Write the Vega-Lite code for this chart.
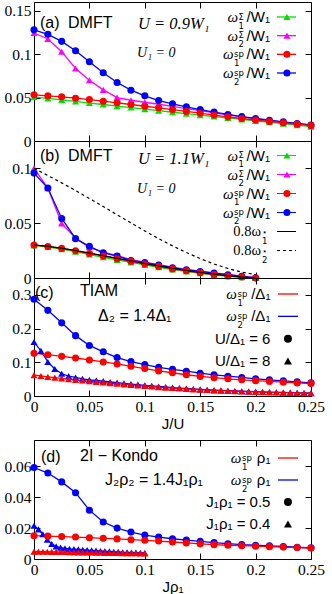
{
"$schema":"https://vega.github.io/schema/vega-lite/v6.json",
"padding":{"left":3,"top":1,"right":2,"bottom":2},
"config":{
"view":{"stroke":"#000","strokeWidth":1},
"axis":{"domain":false,"grid":false,"tickColor":"#000","tickSize":-6,"tickWidth":1,"labelFont":"Liberation Serif","labelFontSize":15.5,"labelColor":"#000","labelPadding":9,"labelFlush":false,"labelOverlap":false,"titleFont":"Liberation Sans","titleFontSize":15,"titleFontWeight":"normal","titleColor":"#000","titlePadding":2},
"line":{"strokeWidth":1.3},
"point":{"filled":true,"opacity":1,"size":50},
"rule":{"strokeWidth":1.3},
"text":{"baseline":"middle","color":"#000"}
},
"spacing":7,
"bounds":"full",
"vconcat":[
{"spacing":0,"bounds":"flush","vconcat":[
{
"width":277,"height":139,
"data":{"values":[
{"s":"w1S","x":0,"y":0.0505},{"s":"w1S","x":0.0125,"y":0.049},{"s":"w1S","x":0.025,"y":0.0473},{"s":"w1S","x":0.0375,"y":0.0455},{"s":"w1S","x":0.05,"y":0.0437},{"s":"w1S","x":0.0625,"y":0.042},{"s":"w1S","x":0.075,"y":0.0402},{"s":"w1S","x":0.0875,"y":0.0385},{"s":"w1S","x":0.1,"y":0.0367},{"s":"w1S","x":0.1125,"y":0.0349},{"s":"w1S","x":0.125,"y":0.0331},{"s":"w1S","x":0.1375,"y":0.0315},{"s":"w1S","x":0.15,"y":0.0298},{"s":"w1S","x":0.1625,"y":0.0282},{"s":"w1S","x":0.175,"y":0.0265},{"s":"w1S","x":0.1875,"y":0.0249},{"s":"w1S","x":0.2,"y":0.0232},{"s":"w1S","x":0.2125,"y":0.0216},{"s":"w1S","x":0.225,"y":0.0199},{"s":"w1S","x":0.2375,"y":0.0183},{"s":"w1S","x":0.25,"y":0.0166},
{"s":"w2S","x":0,"y":0.1243},{"s":"w2S","x":0.0125,"y":0.1174},{"s":"w2S","x":0.025,"y":0.1028},{"s":"w2S","x":0.0375,"y":0.0835},{"s":"w2S","x":0.05,"y":0.07},{"s":"w2S","x":0.0625,"y":0.0589},{"s":"w2S","x":0.075,"y":0.05},{"s":"w2S","x":0.0875,"y":0.0469},{"s":"w2S","x":0.1,"y":0.0446},{"s":"w2S","x":0.1125,"y":0.0423},{"s":"w2S","x":0.125,"y":0.0398},{"s":"w2S","x":0.1375,"y":0.0373},{"s":"w2S","x":0.15,"y":0.0349},{"s":"w2S","x":0.1625,"y":0.0325},{"s":"w2S","x":0.175,"y":0.0301},{"s":"w2S","x":0.1875,"y":0.0278},{"s":"w2S","x":0.2,"y":0.0257},{"s":"w2S","x":0.2125,"y":0.0237},{"s":"w2S","x":0.225,"y":0.0217},{"s":"w2S","x":0.2375,"y":0.0199},{"s":"w2S","x":0.25,"y":0.0182},
{"s":"w2","x":0,"y":0.128},{"s":"w2","x":0.0125,"y":0.1228},{"s":"w2","x":0.025,"y":0.1147},{"s":"w2","x":0.0375,"y":0.1039},{"s":"w2","x":0.05,"y":0.0912},{"s":"w2","x":0.0625,"y":0.0785},{"s":"w2","x":0.075,"y":0.0674},{"s":"w2","x":0.0875,"y":0.0585},{"s":"w2","x":0.1,"y":0.052},{"s":"w2","x":0.1125,"y":0.0466},{"s":"w2","x":0.125,"y":0.0428},{"s":"w2","x":0.1375,"y":0.0394},{"s":"w2","x":0.15,"y":0.0362},{"s":"w2","x":0.1625,"y":0.0333},{"s":"w2","x":0.175,"y":0.0306},{"s":"w2","x":0.1875,"y":0.0281},{"s":"w2","x":0.2,"y":0.0259},{"s":"w2","x":0.2125,"y":0.0239},{"s":"w2","x":0.225,"y":0.022},{"s":"w2","x":0.2375,"y":0.0202},{"s":"w2","x":0.25,"y":0.0185},
{"s":"w1","x":0,"y":0.0531},{"s":"w1","x":0.0125,"y":0.052},{"s":"w1","x":0.025,"y":0.0508},{"s":"w1","x":0.0375,"y":0.0493},{"s":"w1","x":0.05,"y":0.0477},{"s":"w1","x":0.0625,"y":0.0458},{"s":"w1","x":0.075,"y":0.0439},{"s":"w1","x":0.0875,"y":0.042},{"s":"w1","x":0.1,"y":0.04},{"s":"w1","x":0.1125,"y":0.0382},{"s":"w1","x":0.125,"y":0.0362},{"s":"w1","x":0.1375,"y":0.0341},{"s":"w1","x":0.15,"y":0.032},{"s":"w1","x":0.1625,"y":0.0299},{"s":"w1","x":0.175,"y":0.0278},{"s":"w1","x":0.1875,"y":0.0259},{"s":"w1","x":0.2,"y":0.0241},{"s":"w1","x":0.2125,"y":0.0225},{"s":"w1","x":0.225,"y":0.021},{"s":"w1","x":0.2375,"y":0.0194},{"s":"w1","x":0.25,"y":0.0178}
]},
"layer":[
{"mark":"line","encoding":{
"x":{"field":"x","type":"quantitative","scale":{"domain":[0,0.25],"nice":false},"axis":{"orient":"bottom","labels":false,"values":[0,0.05,0.1,0.15,0.2,0.25],"title":null}},
"y":{"field":"y","type":"quantitative","scale":{"domain":[0,0.16],"nice":false},"axis":{"orient":"left","values":[0,0.05,0.1,0.15],"format":"~g","title":null}},
"color":{"field":"s","type":"nominal","scale":{"domain":["w1S","w2S","w1","w2","s1","s2","rc","bc","rt","bt","kc","kt"],"range":["#00dd00","#ff00ff","#ff0000","#0000ff","#000000","#000000","#ff0000","#0000ff","#ff0000","#0000ff","#000000","#000000"]},"legend":null}}},
{"mark":"point","encoding":{
"x":{"field":"x","type":"quantitative","scale":{"domain":[0,0.25],"nice":false},"axis":{"orient":"top","labels":false,"values":[0,0.05,0.1,0.15,0.2,0.25],"title":null}},
"y":{"field":"y","type":"quantitative","scale":{"domain":[0,0.16],"nice":false},"axis":{"orient":"right","labels":false,"values":[0,0.05,0.1,0.15],"title":null}},
"color":{"field":"s","type":"nominal","scale":{"domain":["w1S","w2S","w1","w2","s1","s2","rc","bc","rt","bt","kc","kt"],"range":["#00dd00","#ff00ff","#ff0000","#0000ff","#000000","#000000","#ff0000","#0000ff","#ff0000","#0000ff","#000000","#000000"]},"legend":null},
"shape":{"field":"s","type":"nominal","scale":{"domain":["w1S","w2S","w1","w2","s1","s2","rc","bc","rt","bt","kc","kt"],"range":["triangle-up","triangle-up","circle","circle","circle","circle","circle","circle","triangle-up","triangle-up","circle","triangle-up"]},"legend":null}}},
{"data":{"values":[
{"s":"w1S","h":"ω","st":"Σ\n1","t":"/W₁","g":"S"},
{"s":"w2S","h":"ω","st":"Σ\n2","t":"/W₁","g":"S"},
{"s":"w1","h":"ω","st":"sp\n1","t":"/W₁","g":"P"},
{"s":"w2","h":"ω","st":"sp\n2","t":"/W₁","g":"P"}]},
"encoding":{"y":{"field":"s","type":"nominal","scale":{"type":"point","domain":["w1S","w2S","w1","w2"],"range":[15,71],"padding":0},"axis":null}},
"layer":[
{"mark":"rule","encoding":{"x":{"datum":0.2193,"type":"quantitative","axis":null},"x2":{"datum":0.2365},
"color":{"field":"s","type":"nominal","scale":{"domain":["w1S","w2S","w1","w2","s1","s2","rc","bc","rt","bt","kc","kt"],"range":["#00dd00","#ff00ff","#ff0000","#0000ff","#000000","#000000","#ff0000","#0000ff","#ff0000","#0000ff","#000000","#000000"]},"legend":null}}},
{"mark":"point","encoding":{"x":{"datum":0.2283,"type":"quantitative","axis":null},
"color":{"field":"s","type":"nominal","scale":{"domain":["w1S","w2S","w1","w2","s1","s2","rc","bc","rt","bt","kc","kt"],"range":["#00dd00","#ff00ff","#ff0000","#0000ff","#000000","#000000","#ff0000","#0000ff","#ff0000","#0000ff","#000000","#000000"]},"legend":null},
"shape":{"field":"s","type":"nominal","scale":{"domain":["w1S","w2S","w1","w2","s1","s2","rc","bc","rt","bt","kc","kt"],"range":["triangle-up","triangle-up","circle","circle","circle","circle","circle","circle","triangle-up","triangle-up","circle","triangle-up"]},"legend":null}}},
{"mark":{"type":"text","align":"right","font":"Liberation Sans","fontSize":15},"encoding":{"x":{"datum":0.213,"type":"quantitative","axis":null},"text":{"field":"t","type":"nominal"}}},
{"transform":[{"filter":"datum.g=='S'"}],"mark":{"type":"text","align":"right","dx":-32,"font":"Liberation Serif","fontStyle":"italic","fontSize":15},"encoding":{"x":{"datum":0.213,"type":"quantitative","axis":null},"text":{"field":"h","type":"nominal"}}},
{"transform":[{"filter":"datum.g=='S'"}],"mark":{"type":"text","align":"left","dx":-31.5,"dy":-0.5,"font":"DejaVu Sans","fontSize":8.5,"lineBreak":"\n","lineHeight":9},"encoding":{"x":{"datum":0.213,"type":"quantitative","axis":null},"text":{"field":"st","type":"nominal"}}},
{"transform":[{"filter":"datum.g=='P'"}],"mark":{"type":"text","align":"right","dx":-36.5,"font":"Liberation Serif","fontStyle":"italic","fontSize":15},"encoding":{"x":{"datum":0.213,"type":"quantitative","axis":null},"text":{"field":"h","type":"nominal"}}},
{"transform":[{"filter":"datum.g=='P'"}],"mark":{"type":"text","align":"left","dx":-36,"dy":-0.5,"font":"DejaVu Sans","fontSize":8.5,"lineBreak":"\n","lineHeight":9},"encoding":{"x":{"datum":0.213,"type":"quantitative","axis":null},"text":{"field":"st","type":"nominal"}}}
]},
{"data":{"values":[{}]},
"layer":[
{"mark":{"type":"text","text":"(a)","align":"left","font":"Liberation Sans","fontSize":16},"encoding":{"x":{"datum":0.0054,"type":"quantitative","axis":null},"y":{"datum":0.1362,"type":"quantitative","scale":{"domain":[0,0.16],"nice":false},"axis":null}}},
{"mark":{"type":"text","text":"DMFT","align":"left","font":"Liberation Sans","fontSize":16},"encoding":{"x":{"datum":0.0307,"type":"quantitative","axis":null},"y":{"datum":0.1362,"type":"quantitative","scale":{"domain":[0,0.16],"nice":false},"axis":null}}},
{"mark":{"type":"text","text":"U = 0.9W₁","align":"left","font":"Liberation Serif","fontStyle":"italic","fontSize":16.5},"encoding":{"x":{"datum":0.0939,"type":"quantitative","axis":null},"y":{"datum":0.1343,"type":"quantitative","scale":{"domain":[0,0.16],"nice":false},"axis":null}}},
{"mark":{"type":"text","text":"U₁ = 0","align":"left","font":"Liberation Serif","fontStyle":"italic","fontSize":14},"encoding":{"x":{"datum":0.093,"type":"quantitative","axis":null},"y":{"datum":0.1016,"type":"quantitative","scale":{"domain":[0,0.16],"nice":false},"axis":null}}}
]}
],
"resolve":{"scale":{"y":"independent"},"axis":{"x":"independent","y":"independent"}}
},
{
"width":277,"height":137,
"data":{"values":[
{"s":"w1S","x":0,"y":0.0298},{"s":"w1S","x":0.0125,"y":0.0283},{"s":"w1S","x":0.025,"y":0.0263},{"s":"w1S","x":0.0375,"y":0.024},{"s":"w1S","x":0.05,"y":0.0214},{"s":"w1S","x":0.0625,"y":0.0189},{"s":"w1S","x":0.075,"y":0.0165},{"s":"w1S","x":0.0875,"y":0.0142},{"s":"w1S","x":0.1,"y":0.0119},{"s":"w1S","x":0.1125,"y":0.0098},{"s":"w1S","x":0.125,"y":0.0077},{"s":"w1S","x":0.1375,"y":0.006},{"s":"w1S","x":0.15,"y":0.0043},{"s":"w1S","x":0.1625,"y":0.0028},{"s":"w1S","x":0.175,"y":0.0016},{"s":"w1S","x":0.1875,"y":0.0007},{"s":"w1S","x":0.2,"y":0},
{"s":"w2S","x":0,"y":0.1},{"s":"w2S","x":0.0125,"y":0.082},{"s":"w2S","x":0.025,"y":0.0497},{"s":"w2S","x":0.0375,"y":0.0365},{"s":"w2S","x":0.05,"y":0.028},{"s":"w2S","x":0.0625,"y":0.0235},{"s":"w2S","x":0.075,"y":0.0203},{"s":"w2S","x":0.0875,"y":0.0168},{"s":"w2S","x":0.1,"y":0.0145},{"s":"w2S","x":0.1125,"y":0.0122},{"s":"w2S","x":0.125,"y":0.0098},{"s":"w2S","x":0.1375,"y":0.0078},{"s":"w2S","x":0.15,"y":0.0062},{"s":"w2S","x":0.1625,"y":0.0047},{"s":"w2S","x":0.175,"y":0.0032},{"s":"w2S","x":0.1875,"y":0.0017},{"s":"w2S","x":0.2,"y":0.0004},
{"s":"w2","x":0,"y":0.0957},{"s":"w2","x":0.0125,"y":0.0821},{"s":"w2","x":0.025,"y":0.0543},{"s":"w2","x":0.0375,"y":0.0359},{"s":"w2","x":0.05,"y":0.0289},{"s":"w2","x":0.0625,"y":0.023},{"s":"w2","x":0.075,"y":0.02},{"s":"w2","x":0.0875,"y":0.016},{"s":"w2","x":0.1,"y":0.014},{"s":"w2","x":0.1125,"y":0.0118},{"s":"w2","x":0.125,"y":0.0094},{"s":"w2","x":0.1375,"y":0.0075},{"s":"w2","x":0.15,"y":0.006},{"s":"w2","x":0.1625,"y":0.0045},{"s":"w2","x":0.175,"y":0.003},{"s":"w2","x":0.1875,"y":0.0015},{"s":"w2","x":0.2,"y":0.0003},
{"s":"w1","x":0,"y":0.03},{"s":"w1","x":0.0125,"y":0.0288},{"s":"w1","x":0.025,"y":0.027},{"s":"w1","x":0.0375,"y":0.0248},{"s":"w1","x":0.05,"y":0.0224},{"s":"w1","x":0.0625,"y":0.02},{"s":"w1","x":0.075,"y":0.0176},{"s":"w1","x":0.0875,"y":0.0152},{"s":"w1","x":0.1,"y":0.0127},{"s":"w1","x":0.1125,"y":0.0106},{"s":"w1","x":0.125,"y":0.0083},{"s":"w1","x":0.1375,"y":0.0066},{"s":"w1","x":0.15,"y":0.0048},{"s":"w1","x":0.1625,"y":0.0032},{"s":"w1","x":0.175,"y":0.0019},{"s":"w1","x":0.1875,"y":0.0009},{"s":"w1","x":0.2,"y":0},
{"s":"s1","x":0,"y":0.0302},{"s":"s1","x":0.0125,"y":0.0289},{"s":"s1","x":0.025,"y":0.0272},{"s":"s1","x":0.0375,"y":0.0251},{"s":"s1","x":0.05,"y":0.0228},{"s":"s1","x":0.0625,"y":0.0204},{"s":"s1","x":0.075,"y":0.018},{"s":"s1","x":0.0875,"y":0.0156},{"s":"s1","x":0.1,"y":0.0132},{"s":"s1","x":0.1125,"y":0.011},{"s":"s1","x":0.125,"y":0.0089},{"s":"s1","x":0.1375,"y":0.0069},{"s":"s1","x":0.15,"y":0.0051},{"s":"s1","x":0.1625,"y":0.0035},{"s":"s1","x":0.175,"y":0.0021},{"s":"s1","x":0.1875,"y":0.0009},{"s":"s1","x":0.2,"y":0},
{"s":"s2","x":0,"y":0.1},{"s":"s2","x":0.0125,"y":0.0935},{"s":"s2","x":0.025,"y":0.0868},{"s":"s2","x":0.0375,"y":0.0798},{"s":"s2","x":0.05,"y":0.0726},{"s":"s2","x":0.0625,"y":0.0652},{"s":"s2","x":0.075,"y":0.0577},{"s":"s2","x":0.0875,"y":0.0502},{"s":"s2","x":0.1,"y":0.0429},{"s":"s2","x":0.1125,"y":0.0359},{"s":"s2","x":0.125,"y":0.0293},{"s":"s2","x":0.1375,"y":0.0232},{"s":"s2","x":0.15,"y":0.0177},{"s":"s2","x":0.1625,"y":0.0128},{"s":"s2","x":0.175,"y":0.0087},{"s":"s2","x":0.1875,"y":0.0054},{"s":"s2","x":0.2,"y":0.003}
]},
"layer":[
{"transform":[{"filter":{"field":"s","oneOf":["w1S","w2S","w1","w2"]}}],"mark":"line","encoding":{
"x":{"field":"x","type":"quantitative","scale":{"domain":[0,0.25],"nice":false},"axis":{"orient":"bottom","labels":false,"values":[0,0.05,0.1,0.15,0.2,0.25],"title":null}},
"y":{"field":"y","type":"quantitative","scale":{"domain":[0,0.125],"nice":false},"axis":{"orient":"left","values":[0,0.05,0.1],"format":"~g","title":null}},
"color":{"field":"s","type":"nominal","scale":{"domain":["w1S","w2S","w1","w2","s1","s2","rc","bc","rt","bt","kc","kt"],"range":["#00dd00","#ff00ff","#ff0000","#0000ff","#000000","#000000","#ff0000","#0000ff","#ff0000","#0000ff","#000000","#000000"]},"legend":null}}},
{"transform":[{"filter":{"field":"s","oneOf":["w1S","w2S","w1","w2"]}}],"mark":"point","encoding":{
"x":{"field":"x","type":"quantitative","scale":{"domain":[0,0.25],"nice":false},"axis":{"orient":"top","labels":false,"values":[0,0.05,0.1,0.15,0.2,0.25],"title":null}},
"y":{"field":"y","type":"quantitative","scale":{"domain":[0,0.125],"nice":false},"axis":{"orient":"right","labels":false,"values":[0,0.05,0.1],"title":null}},
"color":{"field":"s","type":"nominal","scale":{"domain":["w1S","w2S","w1","w2","s1","s2","rc","bc","rt","bt","kc","kt"],"range":["#00dd00","#ff00ff","#ff0000","#0000ff","#000000","#000000","#ff0000","#0000ff","#ff0000","#0000ff","#000000","#000000"]},"legend":null},
"shape":{"field":"s","type":"nominal","scale":{"domain":["w1S","w2S","w1","w2","s1","s2","rc","bc","rt","bt","kc","kt"],"range":["triangle-up","triangle-up","circle","circle","circle","circle","circle","circle","triangle-up","triangle-up","circle","triangle-up"]},"legend":null}}},
{"transform":[{"filter":{"field":"s","oneOf":["s1","s2"]}}],"mark":{"type":"line","strokeWidth":1.2},"encoding":{
"x":{"field":"x","type":"quantitative","scale":{"domain":[0,0.25],"nice":false},"axis":null},
"y":{"field":"y","type":"quantitative","scale":{"domain":[0,0.125],"nice":false},"axis":null},
"color":{"field":"s","type":"nominal","scale":{"domain":["w1S","w2S","w1","w2","s1","s2","rc","bc","rt","bt","kc","kt"],"range":["#00dd00","#ff00ff","#ff0000","#0000ff","#000000","#000000","#ff0000","#0000ff","#ff0000","#0000ff","#000000","#000000"]},"legend":null},
"strokeDash":{"field":"s","type":"nominal","scale":{"domain":["w1S","w2S","w1","w2","s1","s2"],"range":[[1,0],[1,0],[1,0],[1,0],[1,0],[3,3]]},"legend":null}}},
{"data":{"values":[
{"s":"w1S","h":"ω","st":"Σ\n1","t":"/W₁","g":"S"},
{"s":"w2S","h":"ω","st":"Σ\n2","t":"/W₁","g":"S"},
{"s":"w1","h":"ω","st":"sp\n1","t":"/W₁","g":"P"},
{"s":"w2","h":"ω","st":"sp\n2","t":"/W₁","g":"P"},
{"s":"s1","h":"0.8ω","st":"⋆\n1","t":"","g":"T"},
{"s":"s2","h":"0.8ω","st":"⋆\n2","t":"","g":"T"}]},
"encoding":{"y":{"field":"s","type":"nominal","scale":{"type":"point","domain":["w1S","w2S","w1","w2","s1","s2"],"range":[14.5,109.5],"padding":0},"axis":null}},
"layer":[
{"mark":{"type":"rule","strokeWidth":1.2},"encoding":{"x":{"datum":0.2193,"type":"quantitative","axis":null},"x2":{"datum":0.2365},
"color":{"field":"s","type":"nominal","scale":{"domain":["w1S","w2S","w1","w2","s1","s2","rc","bc","rt","bt","kc","kt"],"range":["#00dd00","#ff00ff","#ff0000","#0000ff","#000000","#000000","#ff0000","#0000ff","#ff0000","#0000ff","#000000","#000000"]},"legend":null},
"strokeDash":{"field":"s","type":"nominal","scale":{"domain":["w1S","w2S","w1","w2","s1","s2"],"range":[[1,0],[1,0],[1,0],[1,0],[1,0],[3,3]]},"legend":null}}},
{"transform":[{"filter":{"field":"s","oneOf":["w1S","w2S","w1","w2"]}}],"mark":"point","encoding":{"x":{"datum":0.2283,"type":"quantitative","axis":null},
"color":{"field":"s","type":"nominal","scale":{"domain":["w1S","w2S","w1","w2","s1","s2","rc","bc","rt","bt","kc","kt"],"range":["#00dd00","#ff00ff","#ff0000","#0000ff","#000000","#000000","#ff0000","#0000ff","#ff0000","#0000ff","#000000","#000000"]},"legend":null},
"shape":{"field":"s","type":"nominal","scale":{"domain":["w1S","w2S","w1","w2","s1","s2","rc","bc","rt","bt","kc","kt"],"range":["triangle-up","triangle-up","circle","circle","circle","circle","circle","circle","triangle-up","triangle-up","circle","triangle-up"]},"legend":null}}},
{"mark":{"type":"text","align":"right","font":"Liberation Sans","fontSize":15},"encoding":{"x":{"datum":0.213,"type":"quantitative","axis":null},"text":{"field":"t","type":"nominal"}}},
{"transform":[{"filter":"datum.g=='S'"}],"mark":{"type":"text","align":"right","dx":-32,"font":"Liberation Serif","fontStyle":"italic","fontSize":15},"encoding":{"x":{"datum":0.213,"type":"quantitative","axis":null},"text":{"field":"h","type":"nominal"}}},
{"transform":[{"filter":"datum.g=='S'"}],"mark":{"type":"text","align":"left","dx":-31.5,"dy":-0.5,"font":"DejaVu Sans","fontSize":8.5,"lineBreak":"\n","lineHeight":9},"encoding":{"x":{"datum":0.213,"type":"quantitative","axis":null},"text":{"field":"st","type":"nominal"}}},
{"transform":[{"filter":"datum.g=='P'"}],"mark":{"type":"text","align":"right","dx":-36.5,"font":"Liberation Serif","fontStyle":"italic","fontSize":15},"encoding":{"x":{"datum":0.213,"type":"quantitative","axis":null},"text":{"field":"h","type":"nominal"}}},
{"transform":[{"filter":"datum.g=='P'"}],"mark":{"type":"text","align":"left","dx":-36,"dy":-1,"font":"DejaVu Sans","fontSize":8.5,"lineBreak":"\n","lineHeight":9},"encoding":{"x":{"datum":0.213,"type":"quantitative","axis":null},"text":{"field":"st","type":"nominal"}}},
{"transform":[{"filter":"datum.g=='T'"}],"mark":{"type":"text","align":"right","dx":-9,"font":"Liberation Serif","fontSize":14.5},"encoding":{"x":{"datum":0.213,"type":"quantitative","axis":null},"text":{"field":"h","type":"nominal"}}},
{"transform":[{"filter":"datum.g=='T'"}],"mark":{"type":"text","align":"left","dx":-8,"dy":0.5,"font":"DejaVu Sans","fontSize":8.5,"lineBreak":"\n","lineHeight":9},"encoding":{"x":{"datum":0.213,"type":"quantitative","axis":null},"text":{"field":"st","type":"nominal"}}}
]},
{"data":{"values":[{}]},
"layer":[
{"mark":{"type":"text","text":"(b)","align":"left","font":"Liberation Sans","fontSize":16},"encoding":{"x":{"datum":0.0054,"type":"quantitative","axis":null},"y":{"datum":0.1113,"type":"quantitative","scale":{"domain":[0,0.125],"nice":false},"axis":null}}},
{"mark":{"type":"text","text":"DMFT","align":"left","font":"Liberation Sans","fontSize":16},"encoding":{"x":{"datum":0.0307,"type":"quantitative","axis":null},"y":{"datum":0.1113,"type":"quantitative","scale":{"domain":[0,0.125],"nice":false},"axis":null}}},
{"mark":{"type":"text","text":"U = 1.1W₁","align":"left","font":"Liberation Serif","fontStyle":"italic","fontSize":16.5},"encoding":{"x":{"datum":0.0939,"type":"quantitative","axis":null},"y":{"datum":0.1086,"type":"quantitative","scale":{"domain":[0,0.125],"nice":false},"axis":null}}},
{"mark":{"type":"text","text":"U₁ = 0","align":"left","font":"Liberation Serif","fontStyle":"italic","fontSize":14},"encoding":{"x":{"datum":0.093,"type":"quantitative","axis":null},"y":{"datum":0.0812,"type":"quantitative","scale":{"domain":[0,0.125],"nice":false},"axis":null}}}
]}
],
"resolve":{"scale":{"y":"independent"},"axis":{"x":"independent","y":"independent"}}
},
{
"width":277,"height":118,
"data":{"values":[
{"s":"bt","x":0,"y":0.16},{"s":"bt","x":0.00625,"y":0.134},{"s":"bt","x":0.0125,"y":0.101},{"s":"bt","x":0.01875,"y":0.08},{"s":"bt","x":0.025,"y":0.066},{"s":"bt","x":0.03125,"y":0.059},{"s":"bt","x":0.0375,"y":0.055},{"s":"bt","x":0.04375,"y":0.051},{"s":"bt","x":0.05,"y":0.048},{"s":"bt","x":0.05625,"y":0.046},{"s":"bt","x":0.0625,"y":0.044},{"s":"bt","x":0.06875,"y":0.0415},{"s":"bt","x":0.075,"y":0.0395},{"s":"bt","x":0.08125,"y":0.0375},{"s":"bt","x":0.0875,"y":0.0355},{"s":"bt","x":0.09375,"y":0.0336},{"s":"bt","x":0.1,"y":0.0318},{"s":"bt","x":0.10625,"y":0.03},{"s":"bt","x":0.1125,"y":0.0283},{"s":"bt","x":0.11875,"y":0.0267},{"s":"bt","x":0.125,"y":0.0251},{"s":"bt","x":0.13125,"y":0.0236},{"s":"bt","x":0.1375,"y":0.0222},{"s":"bt","x":0.14375,"y":0.0209},{"s":"bt","x":0.15,"y":0.0197},{"s":"bt","x":0.15625,"y":0.0186},{"s":"bt","x":0.1625,"y":0.0176},{"s":"bt","x":0.16875,"y":0.0166},{"s":"bt","x":0.175,"y":0.0157},{"s":"bt","x":0.18125,"y":0.0149},{"s":"bt","x":0.1875,"y":0.0141},{"s":"bt","x":0.19375,"y":0.0134},{"s":"bt","x":0.2,"y":0.0128},{"s":"bt","x":0.20625,"y":0.0122},{"s":"bt","x":0.2125,"y":0.0116},{"s":"bt","x":0.21875,"y":0.011},{"s":"bt","x":0.225,"y":0.0105},{"s":"bt","x":0.23125,"y":0.01},{"s":"bt","x":0.2375,"y":0.0095},{"s":"bt","x":0.24375,"y":0.009},{"s":"bt","x":0.25,"y":0.0086},
{"s":"rt","x":0,"y":0.062},{"s":"rt","x":0.00625,"y":0.0594},{"s":"rt","x":0.0125,"y":0.0569},{"s":"rt","x":0.01875,"y":0.0545},{"s":"rt","x":0.025,"y":0.0522},{"s":"rt","x":0.03125,"y":0.05},{"s":"rt","x":0.0375,"y":0.0479},{"s":"rt","x":0.04375,"y":0.0458},{"s":"rt","x":0.05,"y":0.0438},{"s":"rt","x":0.05625,"y":0.0419},{"s":"rt","x":0.0625,"y":0.04},{"s":"rt","x":0.06875,"y":0.0382},{"s":"rt","x":0.075,"y":0.0364},{"s":"rt","x":0.08125,"y":0.0346},{"s":"rt","x":0.0875,"y":0.0329},{"s":"rt","x":0.09375,"y":0.0312},{"s":"rt","x":0.1,"y":0.0296},{"s":"rt","x":0.10625,"y":0.028},{"s":"rt","x":0.1125,"y":0.0265},{"s":"rt","x":0.11875,"y":0.025},{"s":"rt","x":0.125,"y":0.0236},{"s":"rt","x":0.13125,"y":0.0223},{"s":"rt","x":0.1375,"y":0.021},{"s":"rt","x":0.14375,"y":0.0198},{"s":"rt","x":0.15,"y":0.0187},{"s":"rt","x":0.15625,"y":0.0177},{"s":"rt","x":0.1625,"y":0.0167},{"s":"rt","x":0.16875,"y":0.0158},{"s":"rt","x":0.175,"y":0.015},{"s":"rt","x":0.18125,"y":0.0142},{"s":"rt","x":0.1875,"y":0.0135},{"s":"rt","x":0.19375,"y":0.0128},{"s":"rt","x":0.2,"y":0.0122},{"s":"rt","x":0.20625,"y":0.0116},{"s":"rt","x":0.2125,"y":0.011},{"s":"rt","x":0.21875,"y":0.0105},{"s":"rt","x":0.225,"y":0.01},{"s":"rt","x":0.23125,"y":0.0095},{"s":"rt","x":0.2375,"y":0.009},{"s":"rt","x":0.24375,"y":0.0086},{"s":"rt","x":0.25,"y":0.0082},
{"s":"bc","x":0,"y":0.287},{"s":"bc","x":0.0125,"y":0.254},{"s":"bc","x":0.025,"y":0.217},{"s":"bc","x":0.0375,"y":0.179},{"s":"bc","x":0.05,"y":0.15},{"s":"bc","x":0.0625,"y":0.131},{"s":"bc","x":0.075,"y":0.114},{"s":"bc","x":0.0875,"y":0.102},{"s":"bc","x":0.1,"y":0.093},{"s":"bc","x":0.1125,"y":0.085},{"s":"bc","x":0.125,"y":0.079},{"s":"bc","x":0.1375,"y":0.0735},{"s":"bc","x":0.15,"y":0.0676},{"s":"bc","x":0.1625,"y":0.0627},{"s":"bc","x":0.175,"y":0.0588},{"s":"bc","x":0.1875,"y":0.055},{"s":"bc","x":0.2,"y":0.051},{"s":"bc","x":0.2125,"y":0.048},{"s":"bc","x":0.225,"y":0.045},{"s":"bc","x":0.2375,"y":0.042},{"s":"bc","x":0.25,"y":0.039},
{"s":"rc","x":0,"y":0.1265},{"s":"rc","x":0.0125,"y":0.1225},{"s":"rc","x":0.025,"y":0.1176},{"s":"rc","x":0.0375,"y":0.1127},{"s":"rc","x":0.05,"y":0.107},{"s":"rc","x":0.0625,"y":0.101},{"s":"rc","x":0.075,"y":0.095},{"s":"rc","x":0.0875,"y":0.088},{"s":"rc","x":0.1,"y":0.0814},{"s":"rc","x":0.1125,"y":0.0745},{"s":"rc","x":0.125,"y":0.069},{"s":"rc","x":0.1375,"y":0.063},{"s":"rc","x":0.15,"y":0.0582},{"s":"rc","x":0.1625,"y":0.0542},{"s":"rc","x":0.175,"y":0.051},{"s":"rc","x":0.1875,"y":0.0481},{"s":"rc","x":0.2,"y":0.0455},{"s":"rc","x":0.2125,"y":0.0431},{"s":"rc","x":0.225,"y":0.041},{"s":"rc","x":0.2375,"y":0.0388},{"s":"rc","x":0.25,"y":0.037}
]},
"layer":[
{"mark":"line","encoding":{
"x":{"field":"x","type":"quantitative","scale":{"domain":[0,0.25],"nice":false},"axis":{"orient":"bottom","values":[0,0.05,0.1,0.15,0.2,0.25],"format":"~g","title":"J/U"}},
"y":{"field":"y","type":"quantitative","scale":{"domain":[0,0.35],"nice":false},"axis":{"orient":"left","values":[0,0.1,0.2,0.3],"format":"~g","title":null}},
"color":{"field":"s","type":"nominal","scale":{"domain":["w1S","w2S","w1","w2","s1","s2","rc","bc","rt","bt","kc","kt"],"range":["#00dd00","#ff00ff","#ff0000","#0000ff","#000000","#000000","#ff0000","#0000ff","#ff0000","#0000ff","#000000","#000000"]},"legend":null}}},
{"mark":"point","encoding":{
"x":{"field":"x","type":"quantitative","scale":{"domain":[0,0.25],"nice":false},"axis":{"orient":"top","labels":false,"values":[0,0.05,0.1,0.15,0.2,0.25],"title":null}},
"y":{"field":"y","type":"quantitative","scale":{"domain":[0,0.35],"nice":false},"axis":{"orient":"right","labels":false,"values":[0,0.1,0.2,0.3],"title":null}},
"color":{"field":"s","type":"nominal","scale":{"domain":["w1S","w2S","w1","w2","s1","s2","rc","bc","rt","bt","kc","kt"],"range":["#00dd00","#ff00ff","#ff0000","#0000ff","#000000","#000000","#ff0000","#0000ff","#ff0000","#0000ff","#000000","#000000"]},"legend":null},
"shape":{"field":"s","type":"nominal","scale":{"domain":["w1S","w2S","w1","w2","s1","s2","rc","bc","rt","bt","kc","kt"],"range":["triangle-up","triangle-up","circle","circle","circle","circle","circle","circle","triangle-up","triangle-up","circle","triangle-up"]},"legend":null}}},
{"data":{"values":[
{"s":"rc","h":"ω","st":"sp\n1","t":"/Δ₁","g":"P"},
{"s":"bc","h":"ω","st":"sp\n2","t":"/Δ₁","g":"P"},
{"s":"kc","h":"","st":"","t":"U/Δ₁ = 6","g":"N"},
{"s":"kt","h":"","st":"","t":"U/Δ₁ = 8","g":"N"}]},
"encoding":{"y":{"field":"s","type":"nominal","scale":{"type":"point","domain":["rc","bc","kc","kt"],"range":[16,83],"padding":0},"axis":null}},
"layer":[
{"transform":[{"filter":{"field":"s","oneOf":["rc","bc"]}}],"mark":"rule","encoding":{"x":{"datum":0.2202,"type":"quantitative","axis":null},"x2":{"datum":0.2383},
"color":{"field":"s","type":"nominal","scale":{"domain":["w1S","w2S","w1","w2","s1","s2","rc","bc","rt","bt","kc","kt"],"range":["#00dd00","#ff00ff","#ff0000","#0000ff","#000000","#000000","#ff0000","#0000ff","#ff0000","#0000ff","#000000","#000000"]},"legend":null}}},
{"transform":[{"filter":{"field":"s","oneOf":["kc","kt"]}}],"mark":{"type":"point","size":64},"encoding":{"x":{"datum":0.2292,"type":"quantitative","axis":null},
"color":{"field":"s","type":"nominal","scale":{"domain":["w1S","w2S","w1","w2","s1","s2","rc","bc","rt","bt","kc","kt"],"range":["#00dd00","#ff00ff","#ff0000","#0000ff","#000000","#000000","#ff0000","#0000ff","#ff0000","#0000ff","#000000","#000000"]},"legend":null},
"shape":{"field":"s","type":"nominal","scale":{"domain":["w1S","w2S","w1","w2","s1","s2","rc","bc","rt","bt","kc","kt"],"range":["triangle-up","triangle-up","circle","circle","circle","circle","circle","circle","triangle-up","triangle-up","circle","triangle-up"]},"legend":null}}},
{"mark":{"type":"text","align":"right","font":"Liberation Sans","fontSize":15},"encoding":{"x":{"datum":0.2134,"type":"quantitative","axis":null},"text":{"field":"t","type":"nominal"}}},
{"transform":[{"filter":"datum.g=='P'"}],"mark":{"type":"text","align":"right","dx":-33.5,"font":"Liberation Serif","fontStyle":"italic","fontSize":15},"encoding":{"x":{"datum":0.2134,"type":"quantitative","axis":null},"text":{"field":"h","type":"nominal"}}},
{"transform":[{"filter":"datum.g=='P'"}],"mark":{"type":"text","align":"left","dx":-33,"dy":-0.5,"font":"DejaVu Sans","fontSize":8.5,"lineBreak":"\n","lineHeight":9},"encoding":{"x":{"datum":0.2134,"type":"quantitative","axis":null},"text":{"field":"st","type":"nominal"}}}
]},
{"data":{"values":[{}]},
"layer":[
{"mark":{"type":"text","text":"(c)","align":"left","font":"Liberation Sans","fontSize":16},"encoding":{"x":{"datum":0.0009,"type":"quantitative","axis":null},"y":{"datum":0.3064,"type":"quantitative","scale":{"domain":[0,0.35],"nice":false},"axis":null}}},
{"mark":{"type":"text","text":"TIAM","align":"left","font":"Liberation Sans","fontSize":16},"encoding":{"x":{"datum":0.0415,"type":"quantitative","axis":null},"y":{"datum":0.3114,"type":"quantitative","scale":{"domain":[0,0.35],"nice":false},"axis":null}}},
{"mark":{"type":"text","text":"Δ₂ = 1.4Δ₁","align":"left","font":"Liberation Sans","fontSize":16},"encoding":{"x":{"datum":0.0578,"type":"quantitative","axis":null},"y":{"datum":0.2373,"type":"quantitative","scale":{"domain":[0,0.35],"nice":false},"axis":null}}}
]}
],
"resolve":{"scale":{"y":"independent"},"axis":{"x":"independent","y":"independent"}}
}
]},
{
"width":277,"height":119,
"data":{"values":[
{"s":"bt","x":0,"y":0.0215},{"s":"bt","x":0.004,"y":0.0192},{"s":"bt","x":0.008,"y":0.016},{"s":"bt","x":0.012,"y":0.0125},{"s":"bt","x":0.016,"y":0.0097},{"s":"bt","x":0.02,"y":0.0082},{"s":"bt","x":0.024,"y":0.0074},{"s":"bt","x":0.028,"y":0.0069},{"s":"bt","x":0.032,"y":0.0066},{"s":"bt","x":0.036,"y":0.0064},{"s":"bt","x":0.04,"y":0.0062},{"s":"bt","x":0.044,"y":0.006},{"s":"bt","x":0.048,"y":0.0058},{"s":"bt","x":0.052,"y":0.0056},{"s":"bt","x":0.056,"y":0.0054},{"s":"bt","x":0.06,"y":0.0052},{"s":"bt","x":0.064,"y":0.005},{"s":"bt","x":0.068,"y":0.0049},{"s":"bt","x":0.072,"y":0.0047},{"s":"bt","x":0.076,"y":0.0046},{"s":"bt","x":0.08,"y":0.0044},{"s":"bt","x":0.084,"y":0.0043},{"s":"bt","x":0.088,"y":0.0042},{"s":"bt","x":0.092,"y":0.0041},{"s":"bt","x":0.096,"y":0.004},{"s":"bt","x":0.1,"y":0.0039},
{"s":"rt","x":0,"y":0.0048},{"s":"rt","x":0.004,"y":0.0048},{"s":"rt","x":0.008,"y":0.0047},{"s":"rt","x":0.012,"y":0.0047},{"s":"rt","x":0.016,"y":0.0046},{"s":"rt","x":0.02,"y":0.0046},{"s":"rt","x":0.024,"y":0.0045},{"s":"rt","x":0.028,"y":0.0045},{"s":"rt","x":0.032,"y":0.0044},{"s":"rt","x":0.036,"y":0.0044},{"s":"rt","x":0.04,"y":0.0043},{"s":"rt","x":0.044,"y":0.0043},{"s":"rt","x":0.048,"y":0.0042},{"s":"rt","x":0.052,"y":0.0042},{"s":"rt","x":0.056,"y":0.0041},{"s":"rt","x":0.06,"y":0.0041},{"s":"rt","x":0.064,"y":0.004},{"s":"rt","x":0.068,"y":0.004},{"s":"rt","x":0.072,"y":0.0039},{"s":"rt","x":0.076,"y":0.0039},{"s":"rt","x":0.08,"y":0.0038},{"s":"rt","x":0.084,"y":0.0038},{"s":"rt","x":0.088,"y":0.0037},{"s":"rt","x":0.092,"y":0.0037},{"s":"rt","x":0.096,"y":0.0036},{"s":"rt","x":0.1,"y":0.0036},
{"s":"bc","x":0,"y":0.0592},{"s":"bc","x":0.0125,"y":0.0556},{"s":"bc","x":0.025,"y":0.0499},{"s":"bc","x":0.0375,"y":0.0429},{"s":"bc","x":0.05,"y":0.0316},{"s":"bc","x":0.0625,"y":0.0239},{"s":"bc","x":0.075,"y":0.02},{"s":"bc","x":0.0875,"y":0.0174},{"s":"bc","x":0.1,"y":0.0155},{"s":"bc","x":0.1125,"y":0.0142},{"s":"bc","x":0.125,"y":0.0131},{"s":"bc","x":0.1375,"y":0.0122},{"s":"bc","x":0.15,"y":0.0114},{"s":"bc","x":0.1625,"y":0.0106},{"s":"bc","x":0.175,"y":0.0099},{"s":"bc","x":0.1875,"y":0.0093},{"s":"bc","x":0.2,"y":0.0089},{"s":"bc","x":0.2125,"y":0.0085},{"s":"bc","x":0.225,"y":0.0081},{"s":"bc","x":0.2375,"y":0.0076},{"s":"bc","x":0.25,"y":0.0072},
{"s":"rc","x":0,"y":0.0151},{"s":"rc","x":0.0125,"y":0.0148},{"s":"rc","x":0.025,"y":0.0145},{"s":"rc","x":0.0375,"y":0.0142},{"s":"rc","x":0.05,"y":0.0138},{"s":"rc","x":0.0625,"y":0.0134},{"s":"rc","x":0.075,"y":0.013},{"s":"rc","x":0.0875,"y":0.0125},{"s":"rc","x":0.1,"y":0.0121},{"s":"rc","x":0.1125,"y":0.0116},{"s":"rc","x":0.125,"y":0.011},{"s":"rc","x":0.1375,"y":0.0104},{"s":"rc","x":0.15,"y":0.0098},{"s":"rc","x":0.1625,"y":0.0093},{"s":"rc","x":0.175,"y":0.0089},{"s":"rc","x":0.1875,"y":0.0086},{"s":"rc","x":0.2,"y":0.0083},{"s":"rc","x":0.2125,"y":0.008},{"s":"rc","x":0.225,"y":0.0077},{"s":"rc","x":0.2375,"y":0.0074},{"s":"rc","x":0.25,"y":0.0071}
]},
"layer":[
{"mark":"line","encoding":{
"x":{"field":"x","type":"quantitative","scale":{"domain":[0,0.25],"nice":false},"axis":{"orient":"bottom","values":[0,0.05,0.1,0.15,0.2,0.25],"format":"~g","title":"Jρ₁"}},
"y":{"field":"y","type":"quantitative","scale":{"domain":[0,0.077],"nice":false},"axis":{"orient":"left","values":[0,0.02,0.04,0.06],"format":"~g","title":null}},
"color":{"field":"s","type":"nominal","scale":{"domain":["w1S","w2S","w1","w2","s1","s2","rc","bc","rt","bt","kc","kt"],"range":["#00dd00","#ff00ff","#ff0000","#0000ff","#000000","#000000","#ff0000","#0000ff","#ff0000","#0000ff","#000000","#000000"]},"legend":null}}},
{"mark":"point","encoding":{
"x":{"field":"x","type":"quantitative","scale":{"domain":[0,0.25],"nice":false},"axis":{"orient":"top","labels":false,"values":[0,0.05,0.1,0.15,0.2,0.25],"title":null}},
"y":{"field":"y","type":"quantitative","scale":{"domain":[0,0.077],"nice":false},"axis":{"orient":"right","labels":false,"values":[0,0.02,0.04,0.06],"title":null}},
"color":{"field":"s","type":"nominal","scale":{"domain":["w1S","w2S","w1","w2","s1","s2","rc","bc","rt","bt","kc","kt"],"range":["#00dd00","#ff00ff","#ff0000","#0000ff","#000000","#000000","#ff0000","#0000ff","#ff0000","#0000ff","#000000","#000000"]},"legend":null},
"shape":{"field":"s","type":"nominal","scale":{"domain":["w1S","w2S","w1","w2","s1","s2","rc","bc","rt","bt","kc","kt"],"range":["triangle-up","triangle-up","circle","circle","circle","circle","circle","circle","triangle-up","triangle-up","circle","triangle-up"]},"legend":null}}},
{"data":{"values":[
{"s":"rc","h":"ω","st":"sp\n1","t":"ρ₁","g":"P"},
{"s":"bc","h":"ω","st":"sp\n2","t":"ρ₁","g":"P"},
{"s":"kc","h":"","st":"","t":"J₁ρ₁ = 0.5","g":"N"},
{"s":"kt","h":"","st":"","t":"J₁ρ₁ = 0.4","g":"N"}]},
"encoding":{"y":{"field":"s","type":"nominal","scale":{"type":"point","domain":["rc","bc","kc","kt"],"range":[18,84],"padding":0},"axis":null}},
"layer":[
{"transform":[{"filter":{"field":"s","oneOf":["rc","bc"]}}],"mark":"rule","encoding":{"x":{"datum":0.2202,"type":"quantitative","axis":null},"x2":{"datum":0.2383},
"color":{"field":"s","type":"nominal","scale":{"domain":["w1S","w2S","w1","w2","s1","s2","rc","bc","rt","bt","kc","kt"],"range":["#00dd00","#ff00ff","#ff0000","#0000ff","#000000","#000000","#ff0000","#0000ff","#ff0000","#0000ff","#000000","#000000"]},"legend":null}}},
{"transform":[{"filter":{"field":"s","oneOf":["kc","kt"]}}],"mark":{"type":"point","size":64},"encoding":{"x":{"datum":0.2292,"type":"quantitative","axis":null},
"color":{"field":"s","type":"nominal","scale":{"domain":["w1S","w2S","w1","w2","s1","s2","rc","bc","rt","bt","kc","kt"],"range":["#00dd00","#ff00ff","#ff0000","#0000ff","#000000","#000000","#ff0000","#0000ff","#ff0000","#0000ff","#000000","#000000"]},"legend":null},
"shape":{"field":"s","type":"nominal","scale":{"domain":["w1S","w2S","w1","w2","s1","s2","rc","bc","rt","bt","kc","kt"],"range":["triangle-up","triangle-up","circle","circle","circle","circle","circle","circle","triangle-up","triangle-up","circle","triangle-up"]},"legend":null}}},
{"mark":{"type":"text","align":"right","font":"Liberation Sans","fontSize":15},"encoding":{"x":{"datum":0.2134,"type":"quantitative","axis":null},"text":{"field":"t","type":"nominal"}}},
{"transform":[{"filter":"datum.g=='P'"}],"mark":{"type":"text","align":"right","dx":-29,"font":"Liberation Serif","fontStyle":"italic","fontSize":15},"encoding":{"x":{"datum":0.2134,"type":"quantitative","axis":null},"text":{"field":"h","type":"nominal"}}},
{"transform":[{"filter":"datum.g=='P'"}],"mark":{"type":"text","align":"left","dx":-28.5,"dy":-0.5,"font":"DejaVu Sans","fontSize":8.5,"lineBreak":"\n","lineHeight":9},"encoding":{"x":{"datum":0.2134,"type":"quantitative","axis":null},"text":{"field":"st","type":"nominal"}}}
]},
{"data":{"values":[{}]},
"layer":[
{"mark":{"type":"text","text":"(d)","align":"left","font":"Liberation Sans","fontSize":16},"encoding":{"x":{"datum":0.0063,"type":"quantitative","axis":null},"y":{"datum":0.0662,"type":"quantitative","scale":{"domain":[0,0.077],"nice":false},"axis":null}}},
{"mark":{"type":"text","text":"2I − Kondo","align":"left","font":"Liberation Sans","fontSize":16},"encoding":{"x":{"datum":0.0415,"type":"quantitative","axis":null},"y":{"datum":0.0668,"type":"quantitative","scale":{"domain":[0,0.077],"nice":false},"axis":null}}},
{"mark":{"type":"text","text":"J₂ρ₂ = 1.4J₁ρ₁","align":"left","font":"Liberation Sans","fontSize":16},"encoding":{"x":{"datum":0.0641,"type":"quantitative","axis":null},"y":{"datum":0.0511,"type":"quantitative","scale":{"domain":[0,0.077],"nice":false},"axis":null}}}
]}
],
"resolve":{"scale":{"y":"independent"},"axis":{"x":"independent","y":"independent"}}
}
]
}
